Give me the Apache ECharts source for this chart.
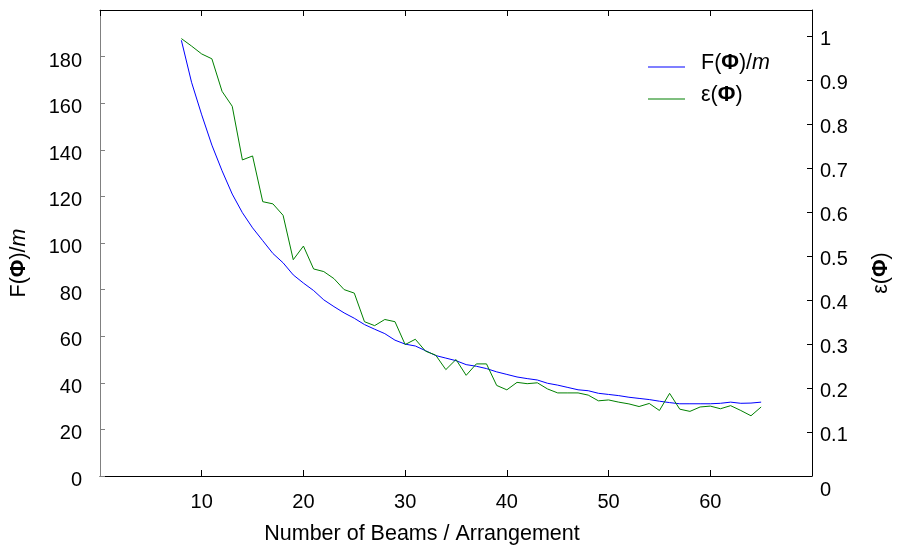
<!DOCTYPE html>
<html>
<head>
<meta charset="utf-8">
<script src="https://cdn.jsdelivr.net/npm/echarts@6/dist/echarts.min.js"></script>
<style>html,body{margin:0;padding:0;background:#fff}#c{width:902px;height:550px}</style>
</head>
<body>
<div id="c"></div>
<script>
var beams = [8,9,10,11,12,13,14,15,16,17,18,19,20,21,22,23,24,25,26,27,28,29,30,31,32,33,34,35,36,37,38,39,40,41,42,43,44,45,46,47,48,49,50,51,52,53,54,55,56,57,58,59,60,61,62,63,64,65];
var fValues = [187,169,155,142,131,121,113,106.5,101,95.5,91.5,86.3,82.8,79.6,75.6,72.7,70,67.7,65,63,61.1,58.3,56.6,55.8,53.8,51.7,50.6,49.5,47.8,47.1,46.1,44.7,43.6,42.5,41.8,41.2,39.8,39.0,38.0,37.0,36.6,35.5,35.0,34.5,33.8,33.3,32.8,32.1,31.5,31.0,31.0,31.0,31.0,31.2,31.7,31.2,31.3,31.7];
var epsValues = [0.995,0.978,0.960,0.949,0.875,0.841,0.719,0.728,0.624,0.619,0.593,0.492,0.523,0.471,0.465,0.449,0.424,0.416,0.351,0.342,0.356,0.351,0.299,0.311,0.284,0.275,0.242,0.265,0.229,0.255,0.255,0.206,0.196,0.213,0.210,0.212,0.198,0.189,0.189,0.189,0.184,0.171,0.173,0.168,0.164,0.158,0.165,0.149,0.188,0.152,0.147,0.157,0.159,0.153,0.160,0.149,0.137,0.157];
var xTicks = {min: 0, max: 70, interval: 10};
var leftTicks = {min: 0, max: 200, interval: 20};
var rightTicks = {min: 0, max: 1.06, interval: 0.1};

var FONT = '"Liberation Sans", Arial, sans-serif';
var NS = 21.5;
var rich = {
  n: {fontFamily: FONT, fontSize: NS, color: '#000'},
  b: {fontFamily: FONT, fontSize: NS, fontWeight: 'bold', color: '#000'},
  i: {fontFamily: FONT, fontSize: NS, fontStyle: 'italic', color: '#000'}
};
var fLabel = '{n|F(}{b|\u03A6}{n|)/}{i|m}';
var eLabel = '{n|\u03B5(}{b|\u03A6}{n|)}';

function pairs(xs, ys) { return xs.map(function (x, k) { return [x, ys[k]]; }); }

var chart = echarts.init(document.getElementById('c'), null, {renderer: 'canvas'});
chart.setOption({
  animation: false,
  backgroundColor: '#fff',
  grid: {left: 100, right: 90, top: 10, bottom: 63, containLabel: false},
  legend: {
    orient: 'vertical', left: 648, top: 52, itemGap: 10, padding: 0,
    itemWidth: 37, itemHeight: 1, icon: 'rect',
    data: ['F', 'eps'],
    formatter: function (n) { return n === 'F' ? fLabel : eLabel; },
    textStyle: {rich: rich, padding: [0, 0, 8, 11]}
  },
  xAxis: [{
    type: 'value', position: 'bottom', min: xTicks.min, max: xTicks.max, interval: xTicks.interval,
    name: 'Number of Beams / Arrangement', nameLocation: 'middle', nameGap: 47,
    nameTextStyle: {fontFamily: FONT, fontSize: NS, color: '#000', padding: [0, 68, 0, 0]},
    axisLine: {show: true, onZero: false, lineStyle: {color: '#000', width: 1}},
    axisTick: {show: true, inside: true, length: 6, lineStyle: {color: '#000'}},
    axisLabel: {
      fontFamily: FONT, fontSize: 20, color: '#000', margin: 12, showMinLabel: false, showMaxLabel: false,
      formatter: function (v) { return '{a|' + v + '}'; },
      rich: {a: {fontFamily: FONT, fontSize: 20, color: '#000', padding: [4, 0, 0, 0]}}
    },
    splitLine: {show: false}
  }, {
    type: 'value', position: 'top', min: xTicks.min, max: xTicks.max, interval: xTicks.interval,
    axisLine: {show: true, onZero: false, lineStyle: {color: '#000', width: 1}},
    axisTick: {show: true, inside: true, length: 6, lineStyle: {color: '#000'}},
    axisLabel: {show: false},
    splitLine: {show: false}
  }],
  yAxis: [{
    type: 'value', position: 'left', min: leftTicks.min, max: leftTicks.max, interval: leftTicks.interval,
    name: fLabel, nameLocation: 'middle', nameGap: 70, nameRotate: 90,
    nameTextStyle: {rich: rich, padding: [0, 40, 0, 0]},
    axisLine: {show: true, onZero: false, lineStyle: {color: '#808080', width: 1}},
    axisTick: {show: true, inside: true, length: 5, lineStyle: {color: '#808080'}},
    axisLabel: {
      fontFamily: FONT, fontSize: 20, color: '#000', margin: 18, showMaxLabel: false,
      formatter: function (v) { return '{a|' + v + '}'; },
      rich: {a: {fontFamily: FONT, fontSize: 20, color: '#000', padding: [9, 0, 0, 0]}}
    },
    splitLine: {show: false}
  }, {
    type: 'value', position: 'right', min: rightTicks.min, max: rightTicks.max, interval: rightTicks.interval,
    name: eLabel, nameLocation: 'middle', nameGap: 58, nameRotate: 90,
    nameTextStyle: {rich: rich, padding: [0, 60, 0, 0]},
    axisLine: {show: true, onZero: false, lineStyle: {color: '#000', width: 1}},
    axisTick: {show: true, inside: true, length: 5, lineStyle: {color: '#000'}},
    axisLabel: {
      fontFamily: FONT, fontSize: 20, color: '#000', margin: 8, showMaxLabel: false, padding: [6, 0, 0, 0],
      formatter: function (v) { return v === 0 ? '{z|0}' : String(Math.round(v * 10) / 10); },
      rich: {z: {fontFamily: FONT, fontSize: 20, color: '#000', padding: [22, 0, 0, 0]}}
    },
    splitLine: {show: false}
  }],
  series: [{
    name: 'F', type: 'line', xAxisIndex: 0, yAxisIndex: 0,
    data: pairs(beams, fValues), showSymbol: false, symbol: 'none',
    lineStyle: {color: '#0000ff', width: 1}, itemStyle: {color: '#0000ff'}
  }, {
    name: 'eps', type: 'line', xAxisIndex: 0, yAxisIndex: 1,
    data: pairs(beams, epsValues), showSymbol: false, symbol: 'none',
    lineStyle: {color: '#008000', width: 1}, itemStyle: {color: '#008000'}
  }]
});
</script>
</body>
</html>
